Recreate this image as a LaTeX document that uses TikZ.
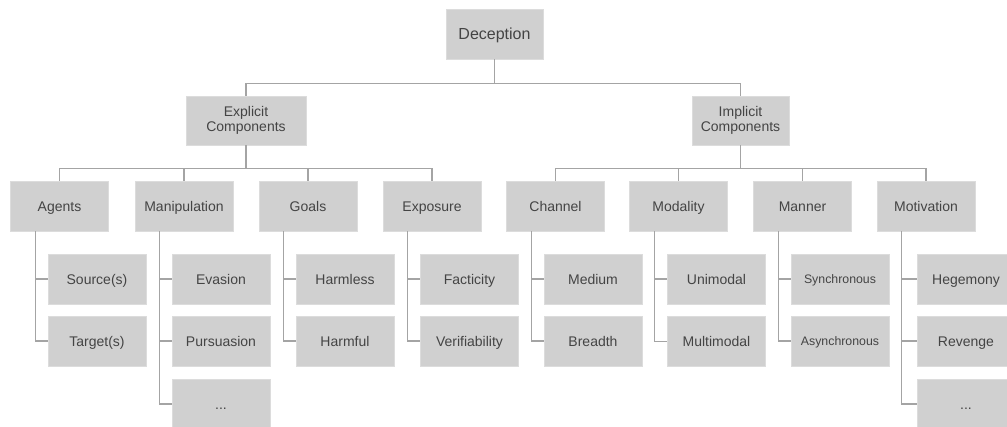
\documentclass[tikz,border=0pt]{standalone}
\usepackage{fontspec}
\setmainfont{Liberation Sans}
\definecolor{boxgray}{HTML}{D0D0D0}
\definecolor{boxedge}{HTML}{DCDCDC}
\definecolor{linegray}{HTML}{A4A4A4}
\definecolor{txtgray}{HTML}{444444}
\begin{document}
\begin{tikzpicture}[x=0.75pt,y=-0.75pt,
  tbox/.style={rectangle,fill=boxgray,draw=boxedge,line width=0.5pt,inner sep=0pt,
    minimum width=73.5pt,minimum height=37.5pt,text=txtgray,align=center,
    font=\fontsize{10.5}{11.8}\selectfont},
  oneline/.style={text height=8pt,text depth=0.5pt},
  smalltxt/.style={font=\fontsize{9.25}{11}\selectfont,text height=7pt,text depth=0.4pt},
  conn/.style={draw=linegray,line width=0.9pt}]
\useasboundingbox (0,0) rectangle (1007,426);
% level 1
\node[tbox,minimum width=72.75pt,font=\fontsize{12}{14}\selectfont,text height=9pt,text depth=0.4pt] (dec) at (494.5,34) {Deception};
% level 2
\node[tbox,minimum width=90pt,minimum height=36.75pt] (exp) at (246,120.5) {Explicit\\Components};
\node[tbox,minimum width=72.75pt,minimum height=36.75pt] (imp) at (740.5,120.5) {Implicit\\Components};
% level 3
\node[tbox,oneline] (agents) at (59.5,206) {Agents};
\node[tbox,oneline] (manip) at (184,206) {Manipulation};
\node[tbox,oneline] (goals) at (308,206) {Goals};
\node[tbox,oneline] (expo) at (432,206) {Exposure};
\node[tbox,oneline] (chan) at (555.5,206) {Channel};
\node[tbox,oneline] (moda) at (678.5,206) {Modality};
\node[tbox,oneline] (mann) at (802.5,206) {Manner};
\node[tbox,oneline] (moti) at (926,206) {Motivation};
% level 4
\node[tbox,oneline] (src) at (97,279) {Source(s)};
\node[tbox,oneline] (tgt) at (97,341) {Target(s)};
\node[tbox,oneline] (eva) at (221,279) {Evasion};
\node[tbox,oneline] (pur) at (221,341) {Pursuasion};
\node[tbox,oneline] (mdots) at (221,404) {...};
\node[tbox,oneline] (hless) at (345,279) {Harmless};
\node[tbox,oneline] (hful) at (345,341) {Harmful};
\node[tbox,oneline] (fact) at (469.5,279) {Facticity};
\node[tbox,oneline] (veri) at (469.5,341) {Verifiability};
\node[tbox,oneline] (med) at (593,279) {Medium};
\node[tbox,oneline] (brea) at (593,341) {Breadth};
\node[tbox,oneline] (uni) at (716.5,279) {Unimodal};
\node[tbox,oneline] (multi) at (716.5,341.5) {Multimodal};
\node[tbox,smalltxt] (sync) at (840,279) {Synchronous};
\node[tbox,smalltxt] (async) at (840,341) {Asynchronous};
\node[tbox,oneline] (hege) at (966,279) {Hegemony};
\node[tbox,oneline] (rev) at (966,341) {Revenge};
\node[tbox,oneline] (vdots) at (966,404) {...};
% connectors level 1-2
\draw[conn] (dec.south) -- ++(0,24) -| (exp.north);
\draw[conn] (dec.south) -- ++(0,24) -| (imp.north);
% connectors level 2-3
\foreach \c in {agents,manip,goals,expo}
  \draw[conn] (exp.south) -- ++(0,23) -| (\c.north);
\foreach \c in {chan,moda,mann,moti}
  \draw[conn] (imp.south) -- ++(0,23) -| (\c.north);
% connectors level 3-4
\foreach \p/\c in {agents/src,agents/tgt,manip/eva,manip/pur,manip/mdots,
  goals/hless,goals/hful,expo/fact,expo/veri,chan/med,chan/brea,
  moda/uni,moda/multi,mann/sync,mann/async,moti/hege,moti/rev,moti/vdots}
  \draw[conn] ([xshift=18.75pt]\p.south west) |- (\c.west);
\end{tikzpicture}
\end{document}
